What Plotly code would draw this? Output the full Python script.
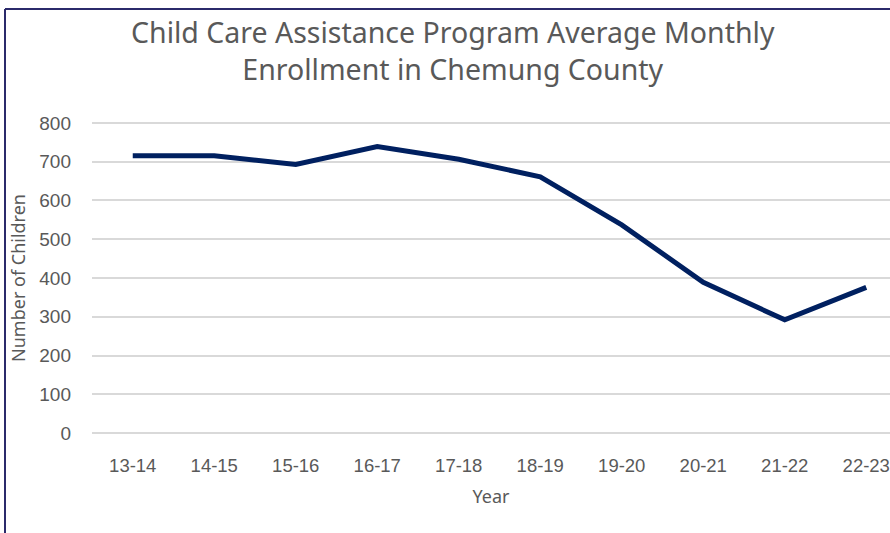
import plotly.graph_objects as go

years = ["13-14", "14-15", "15-16", "16-17", "17-18", "18-19", "19-20", "20-21", "21-22", "22-23"]
children = [715, 715, 693, 739, 706, 661, 537, 389, 292, 376]
y_ticks = [0, 100, 200, 300, 400, 500, 600, 700, 800]

W, H = 890, 533
L, T, B = 92, 119, 96
PW = W - L
PH = H - T - B

fig = go.Figure()
fig.add_trace(go.Scatter(
    x=list(range(len(years))), y=children, mode="lines",
    line=dict(color="#002060", width=5),
    hoverinfo="skip", showlegend=False,
))

def px_x(p):
    return (p - L) / PW

def px_y(p):
    return 1 - (p - T) / PH

border = "#2b2a6b"
fig.add_shape(type="line", xref="paper", yref="paper",
              x0=px_x(5), x1=px_x(5), y0=px_y(560), y1=px_y(9),
              line=dict(color=border, width=2))
fig.add_shape(type="line", xref="paper", yref="paper",
              x0=px_x(5), x1=px_x(900), y0=px_y(9), y1=px_y(9),
              line=dict(color=border, width=2))

fig.add_annotation(
    text="Child Care Assistance Program Average Monthly<br>Enrollment in Chemung County",
    xref="paper", yref="paper", x=px_x(453), y=px_y(11), xanchor="center", yanchor="top",
    showarrow=False, align="center",
    font=dict(family="Noto Sans, Open Sans, sans-serif", size=28.5, color="#595959"),
)

fig.update_layout(
    width=W, height=H,
    margin=dict(l=L, r=0, t=T, b=B, pad=0),
    paper_bgcolor="white", plot_bgcolor="white",
    font=dict(family="Liberation Sans, Arial, sans-serif", color="#595959"),
)
fig.update_xaxes(
    tickmode="array", tickvals=list(range(len(years))), ticktext=years,
    range=[-0.5, -0.5 + 798 / 81.5],
    showgrid=False, zeroline=False, showline=False, ticks="",
    tickfont=dict(size=18.5, color="#595959"),
    ticklabelstandoff=15, ticklabeloverflow="allow",
    title=dict(text="Year", font=dict(family="Noto Sans, Open Sans, sans-serif", size=18, color="#595959"), standoff=15),
)
fig.update_yaxes(
    range=[-10, 810], tickmode="array", tickvals=y_ticks,
    showgrid=True, gridcolor="#d9d9d9", gridwidth=1.5,
    zeroline=False, showline=False, ticks="",
    tickfont=dict(size=19, color="#595959"),
    ticklabelstandoff=20,
    title=dict(text="Number of Children", font=dict(family="Noto Sans, Open Sans, sans-serif", size=18, color="#595959"), standoff=8),
)

fig.write_html("out.html", config={"displayModeBar": False},
               post_script="document.body.style.margin='0';document.body.style.overflow='hidden';")
